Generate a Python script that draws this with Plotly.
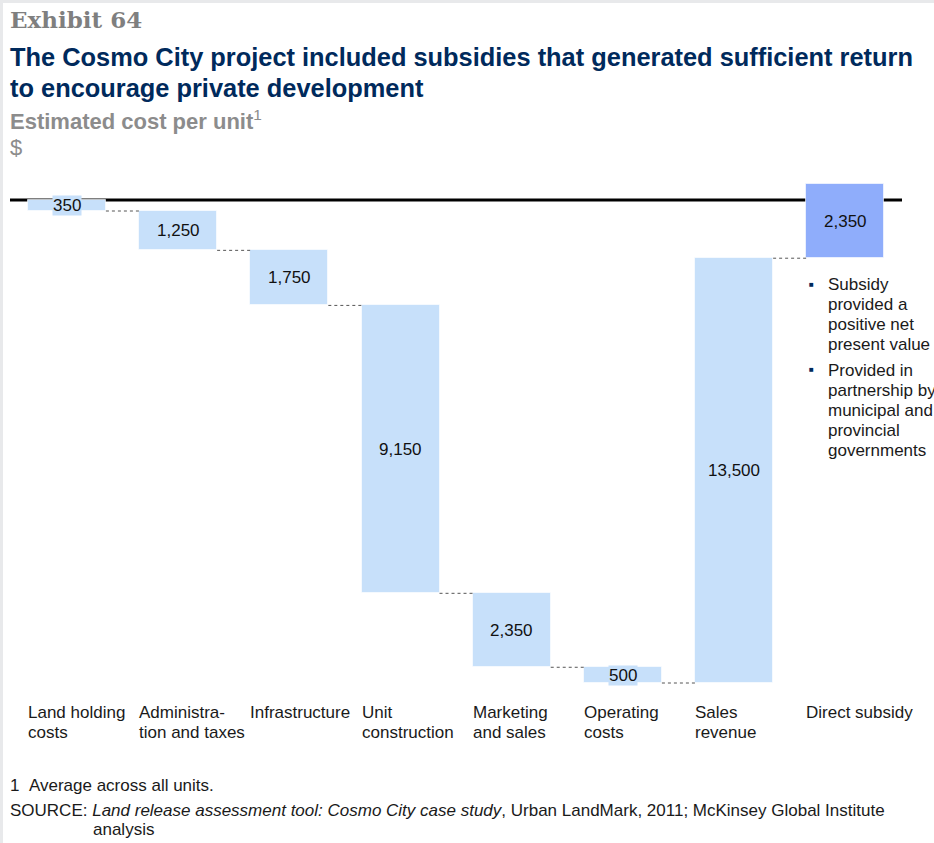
import plotly.graph_objects as go

categories = ["Land holding<br>costs", "Administra-<br>tion and taxes", "Infrastructure",
              "Unit<br>construction", "Marketing<br>and sales", "Operating<br>costs",
              "Sales<br>revenue", "Direct subsidy"]
changes = [-350, -1250, -1750, -9150, -2350, -500, 13500, 2350]
value_labels = ["350", "1,250", "1,750", "9,150", "2,350", "500", "13,500", "2,350"]
note_1 = ["Subsidy", "provided a", "positive net", "present value"]
note_2 = ["Provided in", "partnership by", "municipal and", "provincial", "governments"]

LIGHT = "#c7e0fa"
DARK = "#8fadfb"
colors = [LIGHT] * 7 + [DARK]
FONT = "Liberation Sans, Arial, sans-serif"

# cumulative bases
bases = []
ends = []
run = 0
for v in changes:
    bases.append(run)
    run += v
    ends.append(run)

xs = list(range(len(changes)))
BW = 0.70

fig = go.Figure()
fig.add_trace(go.Bar(
    x=xs, y=changes, base=bases, width=BW,
    marker=dict(color=colors, line=dict(color="rgba(255,255,255,0.6)", width=1)),
    hoverinfo="skip", showlegend=False,
))

# connectors
for i in range(len(changes) - 1):
    fig.add_trace(go.Scatter(
        x=[i + BW / 2, i + 1 - BW / 2], y=[ends[i], ends[i]],
        mode="lines", line=dict(color="#555555", width=1, dash="dot"),
        hoverinfo="skip", showlegend=False,
    ))

annotations = []
for i, (b, v, t) in enumerate(zip(bases, changes, value_labels)):
    annotations.append(dict(
        x=i, y=b + v / 2, xref="x", yref="y", text=t, showarrow=False,
        font=dict(family=FONT, size=17, color="#111111"),
        bgcolor=colors[i], borderpad=0,
    ))

W, H = 934, 843
L, R, T, B = 10, 32, 180, 153
PW, PH = W - L - R, H - T - B


def px(xp):
    return (xp - L) / PW


def py(yp):
    return (H - B - yp) / PH


# category labels (one annotation per line for exact line spacing)
for i, c in enumerate(categories):
    for j, line in enumerate(c.split("<br>")):
        annotations.append(dict(
            x=i - BW / 2, y=py(712 + 20 * j), xref="x", yref="paper", text=line,
            showarrow=False, xanchor="left", yanchor="middle", align="left", xshift=-2,
            font=dict(family=FONT, size=17, color="#1a1a1a"),
        ))


def add_text(text, xp, yp, size, color, family=FONT, anchor="middle"):
    annotations.append(dict(
        x=px(xp - 2), y=py(yp), xref="paper", yref="paper", text=text, showarrow=False,
        xanchor="left", yanchor=anchor, align="left",
        font=dict(family=family, size=size, color=color),
    ))


add_text("<b>Exhibit 64</b>", 10, 19, 23, "#7f7f7f", family="DejaVu Serif, Georgia, serif")
add_text("<b>The Cosmo City project included subsidies that generated sufficient return</b>",
         10, 57, 25.4, "#002a5c")
add_text("<b>to encourage private development</b>", 10, 88, 25.4, "#002a5c")
add_text("<b>Estimated cost per unit</b><sup>1</sup>", 10, 120, 22, "#8c8c8c")
add_text("$", 10, 147, 22, "#8c8c8c")

# bullet notes
for j, line in enumerate(note_1):
    add_text(line, 828, 284 + 20 * j, 17, "#1a1a1a")
for j, line in enumerate(note_2):
    add_text(line, 828, 370 + 20 * j, 17, "#1a1a1a")
add_text("■", 809, 284, 8, "#002a5c")
add_text("■", 809, 369, 8, "#002a5c")

# footnotes
add_text("1&nbsp;&nbsp;Average across all units.", 10, 785, 17, "#1a1a1a")
add_text("SOURCE: <i>Land release assessment tool: Cosmo City case study</i>, Urban LandMark, 2011; McKinsey Global Institute",
         10, 810, 17, "#1a1a1a")
add_text("analysis", 93, 829, 17, "#1a1a1a")

shapes = [
    dict(type="line", xref="x domain", yref="y", x0=0, x1=1, y0=0, y1=0,
         line=dict(color="#000000", width=3), layer="below"),
    # gray page border
    dict(type="rect", xref="paper", yref="paper", x0=px(0), x1=px(3), y0=py(H), y1=py(0),
         fillcolor="#e8e9eb", line=dict(width=0), layer="below"),
    dict(type="rect", xref="paper", yref="paper", x0=px(0), x1=px(W), y0=py(3), y1=py(0),
         fillcolor="#e8e9eb", line=dict(width=0), layer="below"),
]

px_per_unit = 483 / 15350
y_top = 20 / px_per_unit
y_bot = -(490 / px_per_unit)
x0 = (L - 67) / 111.2
x1 = (W - R - 67) / 111.2

fig.update_layout(
    width=W, height=H,
    margin=dict(l=L, r=R, t=T, b=B),
    paper_bgcolor="white", plot_bgcolor="white",
    xaxis=dict(range=[x0, x1], visible=False, fixedrange=True),
    yaxis=dict(range=[y_bot, y_top], visible=False, fixedrange=True),
    annotations=annotations, shapes=shapes,
    bargap=0,
)

fig.write_html("out.html", config={"displayModeBar": False},
               post_script="document.body.style.margin='0';")
